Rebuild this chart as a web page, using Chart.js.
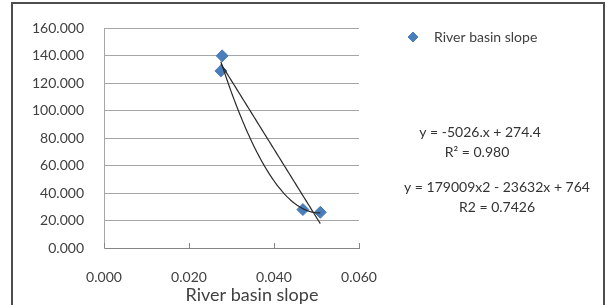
<!DOCTYPE html>
<html>
<head>
<meta charset="utf-8">
<script src="https://cdn.jsdelivr.net/npm/chart.js@4.4.0/dist/chart.umd.min.js"></script>
<style>
body { margin: 0; background: #fff; }
#frame { position: absolute; left: 11px; top: 2px; width: 590px; height: 400px; border: 2px solid #4d4d4d; }
#wrap { position: absolute; left: 0; top: 0; width: 610px; height: 305px; }
</style>
</head>
<body>
<div id="frame"></div>
<div id="wrap"><canvas id="chart" width="610" height="305"></canvas></div>
<script>
// data
const slopeX = [0.0278, 0.0275, 0.0468, 0.0509];
const valueY = [140, 129, 28, 26];
const xTicks = [0, 0.02, 0.04, 0.06];
const yTicks = [0, 20, 40, 60, 80, 100, 120, 140, 160];
const seriesName = 'River basin slope';
const axisTitle = 'River basin slope';
const eqLines = ['y = -5026.x + 274.4', 'R\u00b2 = 0.980', 'y = 179009x2 - 23632x + 764', 'R2 = 0.7426'];

const textColor = '#404040';
const blue = '#4a7ebb';

// least squares fits for the two trendlines
function fitLinear(xs, ys) {
    let n = xs.length, sx = 0, sy = 0, sxx = 0, sxy = 0;
    for (let i = 0; i < n; i++) {
        sx += xs[i]; sy += ys[i]; sxx += xs[i] * xs[i]; sxy += xs[i] * ys[i];
    }
    let b = (n * sxy - sx * sy) / (n * sxx - sx * sx);
    let a = (sy - b * sx) / n;
    return x => a + b * x;
}

function fitQuad(xs, ys) {
    let S = [0, 0, 0, 0, 0], T = [0, 0, 0];
    for (let i = 0; i < xs.length; i++) {
        for (let k = 0; k < 5; k++) S[k] += Math.pow(xs[i], k);
        for (let k = 0; k < 3; k++) T[k] += ys[i] * Math.pow(xs[i], k);
    }
    let M = [[S[0], S[1], S[2], T[0]], [S[1], S[2], S[3], T[1]], [S[2], S[3], S[4], T[2]]];
    for (let c = 0; c < 3; c++) {
        for (let r = c + 1; r < 3; r++) {
            let f = M[r][c] / M[c][c];
            for (let k = c; k < 4; k++) M[r][k] -= f * M[c][k];
        }
    }
    let coef = [0, 0, 0];
    for (let r = 2; r >= 0; r--) {
        let s = M[r][3];
        for (let k = r + 1; k < 3; k++) s -= M[r][k] * coef[k];
        coef[r] = s / M[r][r];
    }
    return x => coef[0] + coef[1] * x + coef[2] * x * x;
}

function trend(fn) {
    let lo = Math.min(...slopeX), hi = Math.max(...slopeX);
    let pts = [];
    for (let i = 0; i <= 60; i++) {
        let x = lo + (hi - lo) * i / 60;
        pts.push({ x: x, y: fn(x) });
    }
    return pts;
}

const points = slopeX.map((x, i) => ({ x: x, y: valueY[i] }));

const extras = {
    id: 'extras',
    afterDraw(chart) {
        const ctx = chart.ctx;
        const xs = chart.scales.x;
        const area = chart.chartArea;
        ctx.save();
        // small tick marks on the x axis
        ctx.strokeStyle = '#868686';
        ctx.lineWidth = 1;
        xTicks.forEach(v => {
            let px = Math.round(xs.getPixelForValue(v)) + 0.5;
            ctx.beginPath();
            ctx.moveTo(px, area.bottom);
            ctx.lineTo(px, area.bottom - 5);
            ctx.stroke();
        });
        // legend
        ctx.fillStyle = blue;
        ctx.strokeStyle = blue;
        Chart.helpers.drawPoint(ctx, { pointStyle: 'rectRot', radius: 5, rotation: 0, borderWidth: 1 }, 413, 37);
        ctx.fillStyle = textColor;
        ctx.font = '14px Lato';
        ctx.textAlign = 'left';
        ctx.textBaseline = 'middle';
        ctx.fillText(seriesName, 434, 37);
        // equations
        ctx.textAlign = 'center';
        ctx.fillStyle = '#333';
        ctx.fillText(eqLines[0], 480, 132);
        ctx.fillText(eqLines[1], 477, 152);
        ctx.fillText(eqLines[2], 497, 187);
        ctx.fillText(eqLines[3], 497, 207);
        // axis title
        ctx.fillStyle = textColor;
        ctx.font = '18px Lato';
        ctx.fillText(axisTitle, 252, 295);
        ctx.restore();
    }
};

const ctx = document.getElementById('chart').getContext('2d');
const myChart = new Chart(ctx, {
    type: 'scatter',
    data: {
        datasets: [{
            label: seriesName,
            data: points,
            pointStyle: 'rectRot',
            pointRadius: 6,
            backgroundColor: blue,
            borderColor: blue,
            borderWidth: 1,
            order: 1
        }, {
            label: 'linear',
            data: trend(fitLinear(slopeX, valueY)),
            showLine: true,
            pointRadius: 0,
            borderColor: '#2a2a2a',
            borderWidth: 1.2,
            order: 0
        }, {
            label: 'poly',
            data: trend(fitQuad(slopeX, valueY)),
            showLine: true,
            pointRadius: 0,
            borderColor: '#2a2a2a',
            borderWidth: 1.2,
            order: 0
        }]
    },
    options: {
        responsive: false,
        animation: false,
        layout: {
            padding: { top: 17, right: 251, bottom: 0, left: 0 }
        },
        scales: {
            x: {
                type: 'linear',
                min: 0,
                max: 0.06,
                afterBuildTicks: s => { s.ticks = xTicks.map(v => ({ value: v })); },
                afterFit: s => { s.height = 57; },
                ticks: {
                    color: textColor,
                    font: { family: 'Lato', size: 14 },
                    padding: 21,
                    maxRotation: 0,
                    callback: v => v.toFixed(3)
                },
                grid: { drawOnChartArea: false, drawTicks: false },
                border: { color: '#868686', width: 1 }
            },
            y: {
                min: 0,
                max: 160,
                afterBuildTicks: s => { s.ticks = yTicks.map(v => ({ value: v })); },
                afterFit: s => { s.width = 104; },
                ticks: {
                    color: textColor,
                    font: { family: 'Lato', size: 14 },
                    padding: 20,
                    callback: v => v.toFixed(3)
                },
                grid: { color: '#a6a6a6', drawTicks: false },
                border: { color: '#a6a6a6', width: 1 }
            }
        },
        plugins: {
            legend: { display: false },
            tooltip: { enabled: false }
        }
    },
    plugins: [extras]
});
</script>
</body>
</html>
